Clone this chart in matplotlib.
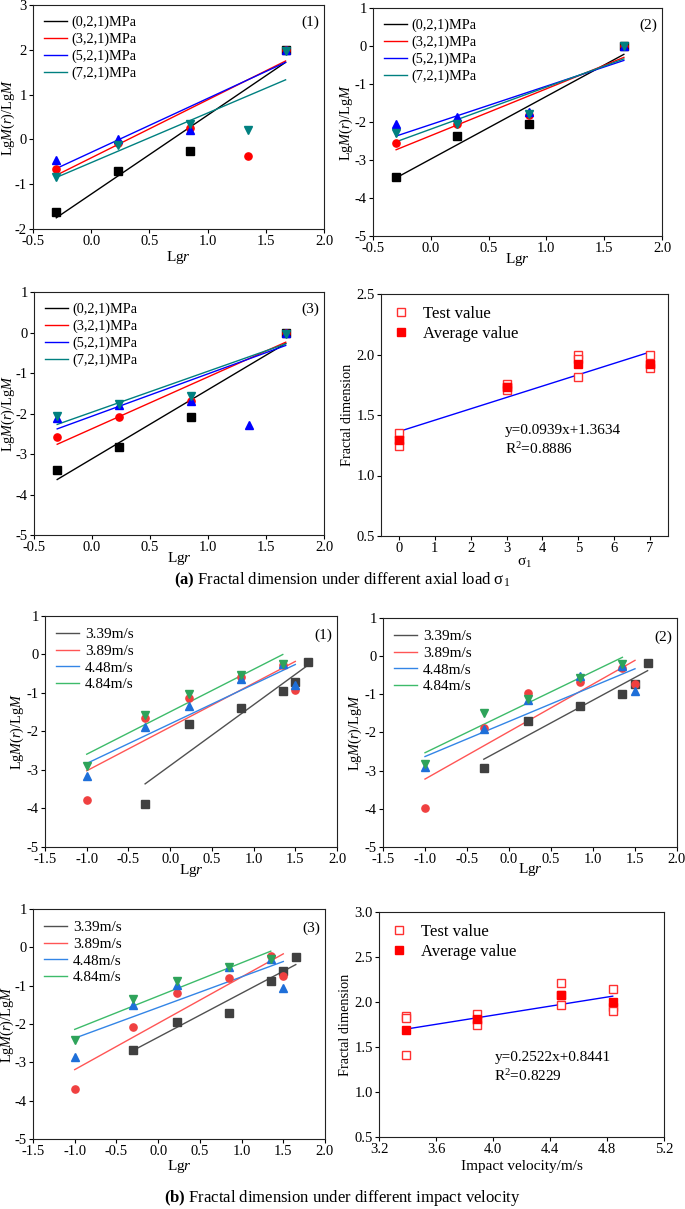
import numpy as np
import matplotlib
matplotlib.use("Agg")
import matplotlib.pyplot as plt

plt.rcParams['font.family'] = ['Liberation Serif', 'DejaVu Serif']
plt.rcParams['mathtext.fontset'] = 'custom'
plt.rcParams['mathtext.rm'] = 'Liberation Serif'
plt.rcParams['mathtext.it'] = 'Liberation Serif:italic'
plt.rcParams['mathtext.bf'] = 'Liberation Serif:bold'
plt.rcParams['axes.unicode_minus'] = False

nan = np.nan

# ---------------- (a) axial load panels ----------------
a_labels = ['(0,2,1)MPa', '(3,2,1)MPa', '(5,2,1)MPa', '(7,2,1)MPa']
a_x = [-0.3, 0.23, 0.85, 1.35, 1.67]

a1_black = [-1.63, -0.71, -0.25, nan, 2.0]
a1_red = [-0.66, -0.08, 0.25, -0.36, 2.0]
a1_blue = [-0.45, 0.02, 0.22, nan, 2.0]
a1_teal = [-0.83, -0.12, 0.35, 0.20, 1.97]
a1_fit = [(-1.75, 1.72), (-0.80, 1.75), (-0.65, 1.72), (-0.85, 1.33)]

a2_black = [-3.44, -2.38, -2.06, nan, 0.0]
a2_red = [-2.56, -2.05, -1.81, nan, 0.0]
a2_blue = [-2.05, -1.88, -1.74, nan, 0.0]
a2_teal = [-2.28, -2.05, -1.79, nan, 0.0]
a2_fit = [(-3.47, -0.22), (-2.73, -0.30), (-2.37, -0.38), (-2.52, -0.34)]

a3_black = [-3.40, -2.82, -2.08, nan, -0.01]
a3_red = [-2.58, -2.08, -1.68, nan, -0.01]
a3_blue = [-2.12, -1.79, -1.68, -2.28, -0.01]
a3_teal = [-2.07, -1.77, -1.58, nan, -0.03]
a3_fit = [(-3.63, -0.27), (-2.76, -0.24), (-2.38, -0.32), (-2.27, -0.28)]
a_fit_x = (-0.3, 1.67)

# ---------------- (a4) fractal dimension vs sigma1 ----------------
sig_test_x = [0, 0, 0, 3, 3, 3, 5, 5, 5, 7, 7, 7]
sig_test_y = [1.35, 1.29, 1.24, 1.76, 1.73, 1.71, 2.00, 1.96, 1.81, 2.00, 1.92, 1.89]
sig_avg_x = [0, 3, 5, 7]
sig_avg_y = [1.29, 1.73, 1.92, 1.92]
sig_slope, sig_icpt = 0.0939, 1.3634

# ---------------- (b) impact velocity panels ----------------
b_labels = ['3.39m/s', '3.89m/s', '4.48m/s', '4.84m/s']
b_x = [-1.0, -0.3, 0.23, 0.85, 1.35, 1.5, 1.65]

b1_black = [nan, -3.89, -1.81, -1.39, -0.95, -0.71, -0.19]
b1_red = [-3.79, -1.65, -1.12, -0.58, -0.26, -0.91, nan]
b1_blue = [-3.16, -1.88, -1.35, -0.64, -0.24, -0.80, nan]
b1_green = [-2.90, -1.56, -1.03, -0.52, -0.24, nan, nan]
b1_fit = [(-3.36, -0.28), (-3.02, -0.18), (-2.83, -0.26), (-2.59, 0.0)]

b2_black = [nan, -2.94, -1.71, -1.30, -0.98, -0.72, -0.18]
b2_red = [-3.99, -1.87, -0.97, -0.67, -0.30, -0.73, nan]
b2_blue = [-2.90, -1.92, -1.16, -0.53, -0.27, -0.90, nan]
b2_green = [-2.83, -1.48, -1.13, -0.58, -0.21, nan, nan]
b2_fit = [(-2.70, -0.38), (-3.22, -0.11), (-2.63, -0.33), (-2.53, -0.03)]

b3_black = [nan, -2.69, -1.96, -1.70, -0.88, -0.61, -0.24]
b3_red = [-3.70, -2.07, -1.20, -0.79, -0.23, -0.75, nan]
b3_blue = [-2.86, -1.50, -0.97, -0.51, -0.30, -1.06, nan]
b3_green = [-2.43, -1.35, -0.89, -0.50, -0.31, nan, nan]
b3_fit = [(-2.69, -0.45), (-3.19, -0.17), (-2.37, -0.37), (-2.14, -0.10)]
b_fit_x = [(-0.3, 1.65), (-1.0, 1.5), (-1.0, 1.5), (-1.0, 1.35)]

# ---------------- (b4) fractal dimension vs impact velocity ----------------
vel_test_x = [3.39, 3.39, 3.39, 3.89, 3.89, 3.89, 4.48, 4.48, 4.48, 4.84, 4.84, 4.84]
vel_test_y = [1.84, 1.82, 1.41, 1.87, 1.80, 1.75, 2.21, 2.08, 1.97, 2.14, 1.94, 1.90]
vel_avg_x = [3.39, 3.89, 4.48, 4.84]
vel_avg_y = [1.69, 1.81, 2.08, 2.00]
vel_slope, vel_icpt = 0.2522, 0.8441

W, H = 685, 1209
fig = plt.figure(figsize=(W / 100, H / 100), dpi=100)


def add_ax(l, r, t, b):
    return fig.add_axes([l / W, 1 - b / H, (r - l) / W, (b - t) / H])


def style(ax, ylx, xly):
    for s in ax.spines.values():
        s.set_linewidth(0.8)
        s.set_color('#222222')
    ax.tick_params(direction='out', length=3, width=0.8, labelsize=10.5,
                   top=False, right=False, pad=1.5)
    ax.yaxis.set_label_coords(ylx, 0.5)
    ax.xaxis.set_label_coords(0.5, xly)
    ax.xaxis.label.set_verticalalignment('center')
    ax.yaxis.label.set_verticalalignment('center')


ylab = r'Lg$\it{M}$($\it{r}$)/Lg$\it{M}$'
xlab = r'Lg$\it{r}$'
LBL = 10.3

a_colors = ['#000000', '#FF0000', '#0000FF', '#008080']
a_markers = ['s', 'o', '^', 'v']
MS = 5.2


def a_panel(ax, series, fits, tag, ylim, yticks, ylx, xly):
    for ys, f, c, m, lab in zip(series, fits, a_colors, a_markers, a_labels):
        ax.plot(a_x, ys, linestyle='none', marker=m, color=c, markersize=MS, zorder=3)
        ax.plot(a_fit_x, f, color=c, linewidth=1.0, label=lab, zorder=2)
    ax.set_xlim(-0.5, 2.0)
    ax.set_xticks([-0.5, 0.0, 0.5, 1.0, 1.5, 2.0])
    ax.set_xticklabels(['-0.5', '0.0', '0.5', '1.0', '1.5', '2.0'])
    ax.set_ylim(*ylim)
    ax.set_yticks(yticks)
    ax.set_xlabel(xlab, fontsize=11)
    ax.set_ylabel(ylab, fontsize=LBL)
    ax.legend(loc='upper left', frameon=False, fontsize=10.3, handlelength=1.6,
              labelspacing=0.25, borderaxespad=0.35, handletextpad=0.35)
    ax.text(0.985, 0.955, tag, transform=ax.transAxes, ha='right', va='top', fontsize=11)
    style(ax, ylx, xly)


ax1 = add_ax(33, 324, 5, 229)
a_panel(ax1, [a1_black, a1_red, a1_blue, a1_teal], a1_fit, '(1)', (-2, 3), range(-2, 4),
        -0.084, -0.125)
ax2 = add_ax(373, 662, 8, 236)
a_panel(ax2, [a2_black, a2_red, a2_blue, a2_teal], a2_fit, '(2)', (-5, 1), range(-5, 2),
        -0.093, -0.105)
ax3 = add_ax(34, 324, 292, 535)
a_panel(ax3, [a3_black, a3_red, a3_blue, a3_teal], a3_fit, '(3)', (-5, 1), range(-5, 2),
        -0.088, -0.095)


def fd_panel(ax, tx, ty, ax_, ay, slope, icpt, xlim, xticks, xtl, ylim, yticks, xlabel,
             eq, r2, txy, ylx, xly):
    ax.plot(tx, ty, linestyle='none', marker='s', markersize=MS, markerfacecolor='white',
            markeredgecolor='#FF3030', markeredgewidth=1.0, label='Test value', zorder=3)
    ax.plot(ax_, ay, linestyle='none', marker='s', markersize=MS, color='#FF0000',
            label='Average value', zorder=4)
    fx = np.array([ax_[0], ax_[-1]])
    ax.plot(fx, slope * fx + icpt, color='#0000FF', linewidth=1.0, zorder=2)
    ax.set_xlim(*xlim)
    ax.set_xticks(xticks)
    ax.set_xticklabels(xtl)
    ax.set_ylim(*ylim)
    ax.set_yticks(yticks)
    ax.set_yticklabels(['%.1f' % v for v in yticks])
    ax.set_xlabel(xlabel, fontsize=11)
    ax.set_ylabel('Fractal dimension', fontsize=LBL)
    ax.legend(loc='upper left', frameon=False, fontsize=12, handlelength=1.0,
              labelspacing=0.25, borderaxespad=0.3, handletextpad=0.8)
    ax.text(txy[0], txy[1], eq + '\n' + r2, fontsize=11, ha='left', va='center',
            linespacing=1.3)
    style(ax, ylx, xly)


ax4 = add_ax(381, 668, 294, 536)
fd_panel(ax4, sig_test_x, sig_test_y, sig_avg_x, sig_avg_y, sig_slope, sig_icpt,
         (-0.5, 7.5), range(0, 8), [str(i) for i in range(8)], (0.5, 2.5),
         [0.5, 1.0, 1.5, 2.0, 2.5], r'$\mathrm{σ}_1$',
         'y=0.0939x+1.3634', r'R$^2$=0.8886', (2.95, 1.29), -0.118, -0.112)

fig.text(0.5, 1 - 580 / H,
         r'$\mathbf{(a)}$ Fractal dimension under different axial load $\mathrm{σ}_1$',
         ha='center', va='center', fontsize=12)

b_colors = ['#404040', '#F04040', '#1E6FD9', '#2EA35A']
b_line_colors = ['#505050', '#FF5555', '#3385E6', '#3DBB6A']
b_markers = ['s', 'o', '^', 'v']


def b_panel(ax, series, fits, tag, ylx, xly):
    for ys, f, fx, c, lc, m, lab in zip(series, fits, b_fit_x, b_colors, b_line_colors,
                                        b_markers, b_labels):
        ax.plot(b_x, ys, linestyle='none', marker=m, color=c, markersize=MS, zorder=3)
        ax.plot(fx, f, color=lc, linewidth=1.0, label=lab, zorder=2)
    ax.set_xlim(-1.5, 2.0)
    ax.set_xticks([-1.5, -1.0, -0.5, 0.0, 0.5, 1.0, 1.5, 2.0])
    ax.set_xticklabels(['-1.5', '-1.0', '-0.5', '0.0', '0.5', '1.0', '1.5', '2.0'])
    ax.set_ylim(-5, 1)
    ax.set_yticks(range(-5, 2))
    ax.set_xlabel(xlab, fontsize=11)
    ax.set_ylabel(ylab, fontsize=LBL)
    ax.legend(loc='upper left', frameon=False, fontsize=11, handlelength=1.5,
              labelspacing=0.2, borderaxespad=0.35, handletextpad=0.35)
    ax.text(0.985, 0.945, tag, transform=ax.transAxes, ha='right', va='top', fontsize=11)
    style(ax, ylx, xly)


bx1 = add_ax(45, 337, 616, 847)
b_panel(bx1, [b1_black, b1_red, b1_blue, b1_green], b1_fit, '(1)', -0.096, -0.1)
bx2 = add_ax(383, 677, 618, 847)
b_panel(bx2, [b2_black, b2_red, b2_blue, b2_green], b2_fit, '(2)', -0.095, -0.1)
bx3 = add_ax(33, 325, 909, 1139)
b_panel(bx3, [b3_black, b3_red, b3_blue, b3_green], b3_fit, '(3)', -0.088, -0.118)

bx4 = add_ax(379, 664, 912, 1137)
fd_panel(bx4, vel_test_x, vel_test_y, vel_avg_x, vel_avg_y, vel_slope, vel_icpt,
         (3.2, 5.2), [3.2, 3.6, 4.0, 4.4, 4.8, 5.2],
         ['3.2', '3.6', '4.0', '4.4', '4.8', '5.2'], (0.5, 3.0),
         [0.5, 1.0, 1.5, 2.0, 2.5, 3.0], 'Impact velocity/m/s',
         'y=0.2522x+0.8441', r'R$^2$=0.8229', (4.01, 1.27), -0.119, -0.133)

fig.text(0.5, 1 - 1198 / H,
         r'$\mathbf{(b)}$ Fractal dimension under different impact velocity',
         ha='center', va='center', fontsize=12)

fig.savefig('out.png', dpi=100)
